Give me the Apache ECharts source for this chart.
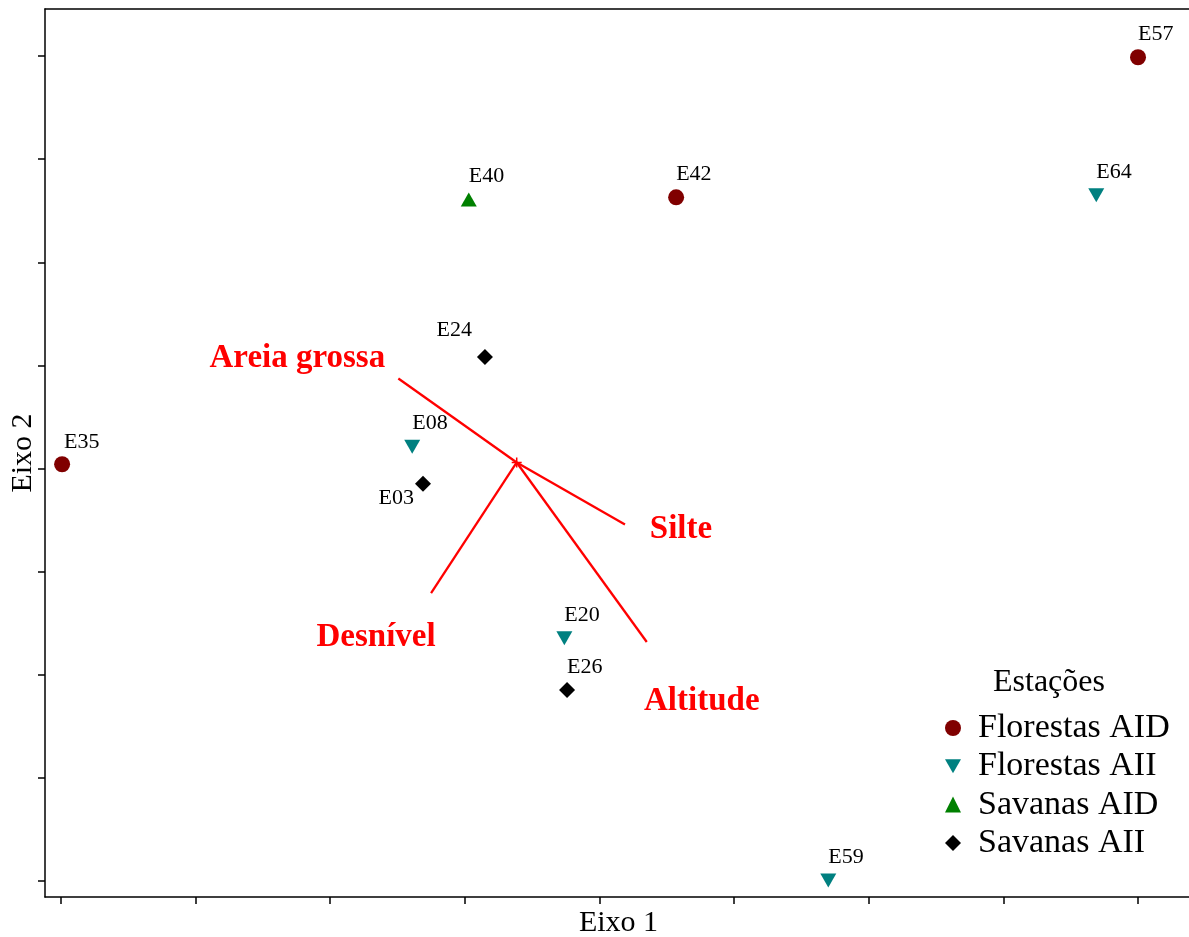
<!DOCTYPE html>
<html>
<head>
<meta charset="utf-8">
<script src="https://cdn.jsdelivr.net/npm/echarts@6/dist/echarts.min.js"></script>
<style>
  html, body { margin: 0; padding: 0; background: #ffffff; }
  #chart { width: 1189px; height: 937px; }
</style>
</head>
<body>
<div id="chart"></div>
<script>
// Ordination scores of the sampling stations (Eixo 1, Eixo 2)
const groupNames = ['Florestas AID', 'Florestas AII', 'Savanas AID', 'Savanas AII'];

const florestasAidNames = ['E57', 'E35', 'E42'];
const florestasAidX = [8.00, 0.01, 4.57];
const florestasAidY = [7.99, 4.04, 6.63];

const florestasAiiNames = ['E64', 'E08', 'E20', 'E59'];
const florestasAiiX = [7.69, 2.61, 3.74, 5.70];
const florestasAiiY = [6.65, 4.21, 2.35, 0.00];

const savanasAidNames = ['E40'];
const savanasAidX = [3.03];
const savanasAidY = [6.61];

const savanasAiiNames = ['E24', 'E03', 'E26'];
const savanasAiiX = [3.15, 2.69, 3.76];
const savanasAiiY = [5.08, 3.85, 1.85];

// Environmental variable vectors (biplot arrows from the origin)
const variableNames = ['Areia grossa', 'Silte', 'Desnível', 'Altitude'];
const originX = 3.386;
const originY = 4.057;
const vectorEndX = [2.507, 4.190, 2.750, 4.352];
const vectorEndY = [4.872, 3.455, 2.788, 2.315];

// Tick marks on both axes (no tick labels are printed)
const tickValues = [0, 1, 2, 3, 4, 5, 6, 7, 8];

// ---- styling ----
const FONT = "'Liberation Serif', 'Times New Roman', serif";
const X_MIN = -0.117, X_MAX = 8.401;
const groupStyle = {
  'Florestas AID': { color: '#800000', symbol: 'circle', size: 16 },
  'Florestas AII': { color: '#008080', symbol: 'path://M0,0L16,0L8,14Z', size: [16, 14] },
  'Savanas AID':   { color: '#008000', symbol: 'triangle', size: [16, 14] },
  'Savanas AII':   { color: '#000000', symbol: 'diamond', size: 16 }
};
// label placement around each station marker
const stationLabelPlacement = {
  E24: { align: 'right', offset: [-13, -27] },
  E03: { align: 'right', offset: [-9, 14] },
  E35: { align: 'left', offset: [2, -22] }
};
const defaultStationLabel = { align: 'left', offset: [0, -23] };
// placement of the variable names relative to the arrow tips (pixels)
const variableLabelOffset = [[-101, -20], [56, 5], [-55, 44], [55, 59]];

function zipPoints(names, xs, ys) {
  return names.map((n, i) => ({ name: n, value: [xs[i], ys[i]] }));
}

const groupData = {
  'Florestas AID': zipPoints(florestasAidNames, florestasAidX, florestasAidY),
  'Florestas AII': zipPoints(florestasAiiNames, florestasAiiX, florestasAiiY),
  'Savanas AID': zipPoints(savanasAidNames, savanasAidX, savanasAidY),
  'Savanas AII': zipPoints(savanasAiiNames, savanasAiiX, savanasAiiY)
};

const stationSeries = groupNames.map(g => ({
  name: g,
  type: 'scatter',
  symbol: groupStyle[g].symbol,
  symbolSize: groupStyle[g].size,
  itemStyle: { color: groupStyle[g].color, opacity: 1 },
  z: 5,
  data: groupData[g].map(d => {
    const p = stationLabelPlacement[d.name] || defaultStationLabel;
    return {
      name: d.name,
      value: d.value,
      label: {
        show: true,
        position: 'inside',
        formatter: '{b}',
        align: p.align,
        verticalAlign: 'middle',
        offset: p.offset,
        color: '#000',
        fontFamily: FONT,
        fontSize: 22
      }
    };
  })
}));

const vectorSeries = variableNames.map((v, i) => ({
  name: v,
  type: 'line',
  data: [[originX, originY], [vectorEndX[i], vectorEndY[i]]],
  showSymbol: false,
  symbol: 'none',
  lineStyle: { color: '#ff0000', width: 2.3 },
  z: 3,
  silent: true
}));

const vectorLabelSeries = {
  name: 'variáveis',
  type: 'scatter',
  symbolSize: 0,
  silent: true,
  z: 6,
  itemStyle: { color: '#ff0000', opacity: 1 },
  data: variableNames.map((v, i) => ({
    name: v,
    value: [vectorEndX[i], vectorEndY[i]],
    label: {
      show: true,
      position: 'inside',
      formatter: '{b}',
      align: 'center',
      verticalAlign: 'middle',
      offset: variableLabelOffset[i],
      color: '#ff0000',
      opacity: 1,
      fontFamily: FONT,
      fontWeight: 'bold',
      fontSize: 33
    }
  }))
};

const originSeries = {
  name: 'origem',
  type: 'scatter',
  symbol: 'path://M4.25,0H5.75V10H4.25ZM0,4.25H10V5.75H0Z',
  symbolSize: 10,
  itemStyle: { color: '#ff0000', opacity: 1 },
  silent: true,
  z: 4,
  data: [[originX, originY]]
};

const axisCommon = {
  type: 'value',
  splitLine: { show: false },
  axisLine: { show: true, onZero: false, lineStyle: { color: '#000', width: 1.5 } },
  axisTick: { show: true, inside: false, length: 7, customValues: tickValues, lineStyle: { color: '#000', width: 1.5 } },
  axisLabel: { show: false, customValues: tickValues },
  nameLocation: 'middle',
  nameTextStyle: { color: '#000', fontFamily: FONT, fontSize: 30 }
};

const chart = echarts.init(document.getElementById('chart'), null, { renderer: 'canvas' });
chart.setOption({
  animation: false,
  backgroundColor: '#ffffff',
  grid: {
    left: 45, top: 9, right: -3, bottom: 40,
    outerBoundsMode: 'none',
    containLabel: false,
    show: false
  },
  xAxis: [
    Object.assign({}, axisCommon, { min: X_MIN, max: X_MAX, name: 'Eixo 1', nameGap: 11 }),
    // plain frame line along the top edge of the plot
    {
      type: 'value', position: 'top', min: X_MIN, max: X_MAX,
      splitLine: { show: false }, axisTick: { show: false }, axisLabel: { show: false },
      axisLine: { show: true, onZero: false, lineStyle: { color: '#000', width: 1.5 } }
    }
  ],
  yAxis: Object.assign({}, axisCommon, {
    min: -0.16, max: 8.458, name: 'Eixo 2', nameGap: 7
  }),
  title: {
    text: 'Estações',
    left: 993, top: 667, padding: 0,
    textStyle: { color: '#000', fontFamily: FONT, fontSize: 32, fontWeight: 'normal' }
  },
  legend: {
    data: groupNames,
    orient: 'vertical',
    left: 945, top: 711, padding: 0,
    itemWidth: 16, itemHeight: 16, itemGap: 4.3,
    textStyle: { color: '#000', fontFamily: FONT, fontSize: 34, lineHeight: 32, padding: [0, 0, 0, 12] }
  },
  series: [...vectorSeries, originSeries, ...stationSeries, vectorLabelSeries]
});
</script>
</body>
</html>
